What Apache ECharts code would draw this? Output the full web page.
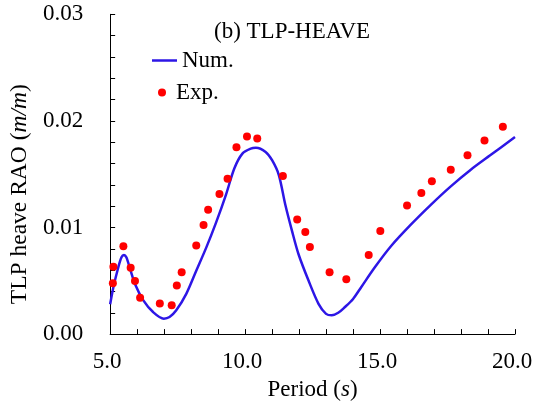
<!DOCTYPE html>
<html>
<head>
<meta charset="utf-8">
<script src="https://cdn.jsdelivr.net/npm/echarts@6/dist/echarts.min.js"></script>
<style>
  html, body { margin: 0; padding: 0; background: #fff; }
  #chart { width: 539px; height: 406px; }
</style>
</head>
<body>
<div id="chart"></div>
<script>
'use strict';

// 数值解 Num.
var numX = [5.0, 5.12, 5.3, 5.42, 5.51, 5.6, 5.74, 5.92, 6.23, 6.59, 6.99, 7.2, 7.45, 7.82, 8.19, 8.56, 8.92, 9.29, 9.6, 9.9,
	10.21, 10.4, 10.76, 11.0, 11.25, 11.49, 11.74, 11.98, 12.35, 12.72, 13.0, 13.21, 13.45, 13.7, 14.0, 14.3, 14.8, 15.41,
	16.14, 16.88, 17.61, 18.35, 19.08, 20.0];
var numY = [0.0028, 0.0044, 0.00625, 0.0072, 0.00743, 0.0072, 0.0061, 0.0047, 0.00316, 0.00207, 0.00145, 0.0016, 0.00223,
	0.00377, 0.00594, 0.00811, 0.01043, 0.01306, 0.01554, 0.01693, 0.0174, 0.01748, 0.01709, 0.01631, 0.01492, 0.01213,
	0.00966, 0.00749, 0.00502, 0.00284, 0.0019, 0.00176, 0.0020, 0.00254, 0.0033, 0.0044, 0.00625, 0.00827, 0.01027,
	0.01213, 0.01384, 0.0154, 0.01677, 0.01848];

// 试验 Exp.
var expX = [5.10, 5.12, 5.49, 5.76, 5.92, 6.11, 6.84, 7.28, 7.47, 7.65, 8.19, 8.46, 8.63, 9.05, 9.35, 9.68, 10.07, 10.45,
	11.40, 11.93, 12.23, 12.40, 13.13, 13.75, 14.58, 15.01, 16.00, 16.53, 16.92, 17.62, 18.24, 18.87, 19.55];
var expY = [0.00476, 0.00632, 0.00823, 0.00622, 0.00498, 0.0034, 0.00288, 0.0027, 0.00455, 0.00581, 0.00832, 0.01023,
	0.01166, 0.01315, 0.01458, 0.01752, 0.01854, 0.01835, 0.01482, 0.01074, 0.00957, 0.00817, 0.00581, 0.00514, 0.00741,
	0.00966, 0.01207, 0.01324, 0.01433, 0.01542, 0.01677, 0.01817, 0.01944];

var xLabels = [5, 10, 15, 20];
var yLabels = [0, 0.01, 0.02, 0.03];

var font = "'Liberation Serif', 'Times New Roman', serif";

function pairs(xs, ys) {
	var out = [];
	for (var i = 0; i < xs.length; i++) {
		out.push([xs[i], ys[i]]);
	}
	return out;
}

function isLabel(list, v) {
	for (var i = 0; i < list.length; i++) {
		if (Math.abs(list[i] - v) < 1e-9) return true;
	}
	return false;
}

var myChart = echarts.init(document.getElementById('chart'));
var option = {
	backgroundColor : '#fff',
	animation : false,
	title : {
		text : '(b) TLP-HEAVE',
		left : 214,
		top : 20,
		padding : 0,
		textStyle : { fontFamily : font, fontSize : 23, fontWeight : 'normal', color : '#000' }
	},
	legend : [ {
		data : [ { name : 'Num.', icon : 'rect' } ],
		left : 152,
		top : 49,
		padding : 0,
		itemWidth : 25,
		itemHeight : 2.5,
		textStyle : { fontFamily : font, fontSize : 23, color : '#000' }
	}, {
		data : [ { name : 'Exp.', icon : 'circle' } ],
		left : 158,
		top : 81,
		padding : 0,
		itemWidth : 18,
		itemHeight : 8,
		textStyle : { fontFamily : font, fontSize : 23, color : '#000' }
	} ],
	grid : {
		left : 106.7,
		right : 24,
		top : 14.3,
		bottom : 68.7,
		containLabel : false
	},
	xAxis : {
		type : 'value',
		min : 5,
		max : 20,
		interval : 1,
		name : 'Period ({i|s})',
		nameLocation : 'middle',
		nameGap : 38,
		nameTextStyle : {
			fontFamily : font, fontSize : 23, color : '#000',
			rich : { i : { fontFamily : font, fontSize : 23, fontStyle : 'italic', color : '#000' } }
		},
		axisLine : { lineStyle : { color : '#000', width : 1 } },
		axisTick : { inside : true, length : 5, lineStyle : { color : '#000' } },
		splitLine : { show : false },
		axisLabel : {
			margin : 16,
			fontFamily : font,
			fontSize : 23,
			color : '#000',
			padding : [ 0, 6, 0, 0 ],
			formatter : function (v) {
				return isLabel(xLabels, v) ? v.toFixed(1) : '';
			}
		}
	},
	yAxis : {
		type : 'value',
		min : 0,
		max : 0.03,
		interval : 0.002,
		name : 'TLP heave RAO ({i|m/m})',
		nameLocation : 'middle',
		nameRotate : 90,
		nameGap : 64,
		nameTextStyle : {
			fontFamily : font, fontSize : 23.5, color : '#000',
			padding : [ 0, 40, 0, 0 ],
			rich : { i : { fontFamily : font, fontSize : 23.5, fontStyle : 'italic', color : '#000' } }
		},
		axisLine : { show : true, lineStyle : { color : '#000', width : 1 } },
		axisTick : { show : true, inside : true, length : 5, lineStyle : { color : '#000' } },
		splitLine : { show : false },
		axisLabel : {
			margin : 27,
			fontFamily : font,
			fontSize : 23,
			color : '#000',
			formatter : function (v) {
				return isLabel(yLabels, v) ? v.toFixed(2) : '';
			}
		}
	},
	series : [ {
		name : 'Num.',
		type : 'line',
		data : pairs(numX, numY),
		smooth : 0.3,
		symbol : 'none',
		lineStyle : { color : '#2d16e6', width : 2.5 },
		itemStyle : { color : '#2d16e6' },
		z : 2
	}, {
		name : 'Exp.',
		type : 'scatter',
		data : pairs(expX, expY),
		symbol : 'circle',
		symbolSize : 8,
		itemStyle : { color : '#ff0000', opacity : 1 },
		z : 3
	} ]
};
myChart.setOption(option);
</script>
</body>
</html>
